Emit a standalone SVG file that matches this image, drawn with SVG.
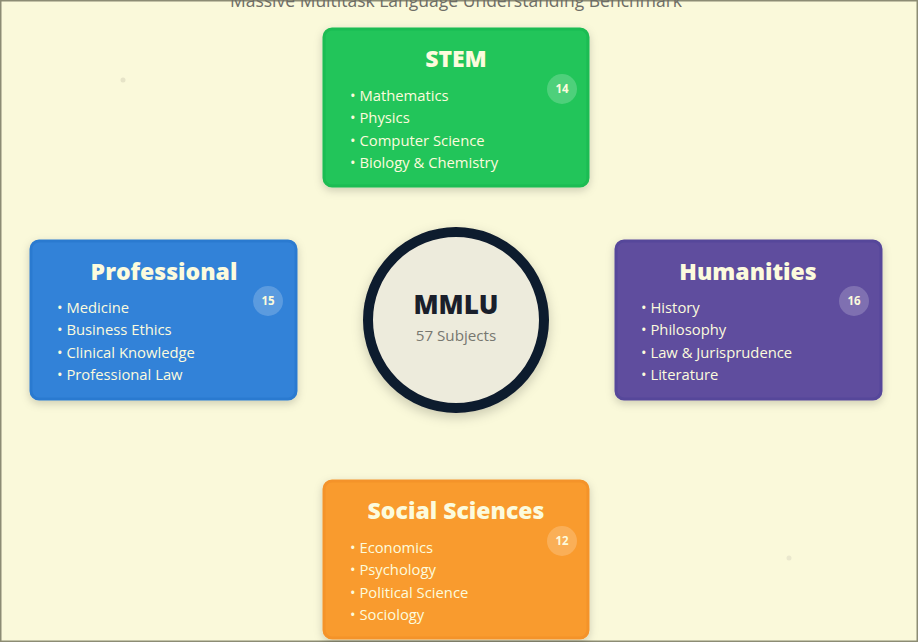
<svg xmlns="http://www.w3.org/2000/svg" width="918" height="642" viewBox="0 0 918 642">
<defs>
<filter id="sh" x="-20%" y="-20%" width="140%" height="150%">
<feDropShadow dx="0" dy="3" stdDeviation="4" flood-color="#000" flood-opacity="0.18"/>
</filter>
<filter id="csh" x="-30%" y="-30%" width="160%" height="160%">
<feDropShadow dx="0" dy="4" stdDeviation="6" flood-color="#000" flood-opacity="0.2"/>
</filter>
</defs>
<style>
.bg{fill:#FAF9DA}
.card{stroke-width:3;filter:url(#sh)}
.ttl{font-family:"Open Sans","Noto Sans",sans-serif;font-weight:800;font-size:23px;fill:#FCFBDD;text-anchor:middle}
.it{font-family:"Open Sans","Noto Sans",sans-serif;font-size:14.8px;fill:#FCFBDD}
.bd{fill:#FFFFFF;fill-opacity:0.2}
.bt{font-family:"Open Sans","Noto Sans",sans-serif;font-weight:700;font-size:11.5px;fill:#FCFBDD;text-anchor:middle}
</style>
<rect class="bg" x="0" y="0" width="918" height="642"/>
<rect x="0.75" y="0.75" width="916.5" height="640.5" fill="none" stroke="#8C8C74" stroke-width="1.5"/>
<text x="456" y="7" font-family="'Open Sans','Noto Sans',sans-serif" font-size="17.5" fill="#6E6E66" text-anchor="middle">Massive Multitask Language Understanding Benchmark</text>
<circle cx="123" cy="80" r="2.5" fill="#E6E4C8"/>
<circle cx="789" cy="558" r="2.5" fill="#EAE8CE"/>
<g id="connectors"></g>
<g id="center">
<circle cx="456" cy="320" r="88" fill="#EDEBDC" stroke="#0F1B2D" stroke-width="10" filter="url(#csh)"/>
<text x="456" y="314" font-family="'Open Sans','Noto Sans',sans-serif" font-weight="800" font-size="26" fill="#1A1F2B" text-anchor="middle">MMLU</text>
<text x="456" y="341" font-family="'Open Sans','Noto Sans',sans-serif" font-size="15.2" fill="#777770" text-anchor="middle">57 Subjects</text>
</g>
<g id="stem">
<rect class="card" x="324" y="29" width="264" height="157" rx="8" fill="#22C55A" stroke="#1DBC52"/>
<text class="ttl" x="456" y="67">STEM</text>
<circle class="bd" cx="562" cy="89" r="15"/>
<text class="bt" x="562" y="93">14</text>
<text class="it" x="350" y="101">• Mathematics</text>
<text class="it" x="350" y="123">• Physics</text>
<text class="it" x="350" y="146">• Computer Science</text>
<text class="it" x="350" y="168">• Biology &amp; Chemistry</text>
</g>
<g id="professional">
<rect class="card" x="31" y="241" width="265" height="158" rx="8" fill="#3282D8" stroke="#2C7AD0"/>
<text class="ttl" x="164" y="280">Professional</text>
<circle class="bd" cx="268" cy="301" r="15"/>
<text class="bt" x="268" y="305">15</text>
<text class="it" x="57" y="313">• Medicine</text>
<text class="it" x="57" y="335">• Business Ethics</text>
<text class="it" x="57" y="358">• Clinical Knowledge</text>
<text class="it" x="57" y="380">• Professional Law</text>
</g>
<g id="humanities">
<rect class="card" x="616" y="241" width="265" height="158" rx="8" fill="#5E4E9E" stroke="#56479A"/>
<text class="ttl" x="748" y="280">Humanities</text>
<circle class="bd" cx="854" cy="301" r="15"/>
<text class="bt" x="854" y="305">16</text>
<text class="it" x="641" y="313">• History</text>
<text class="it" x="641" y="335">• Philosophy</text>
<text class="it" x="641" y="358">• Law &amp; Jurisprudence</text>
<text class="it" x="641" y="380">• Literature</text>
</g>
<g id="social">
<rect class="card" x="324" y="481" width="264" height="157" rx="8" fill="#F99B2E" stroke="#F4932A"/>
<text class="ttl" x="456" y="519">Social Sciences</text>
<circle class="bd" cx="562" cy="541" r="15"/>
<text class="bt" x="562" y="545">12</text>
<text class="it" x="350" y="553">• Economics</text>
<text class="it" x="350" y="575">• Psychology</text>
<text class="it" x="350" y="598">• Political Science</text>
<text class="it" x="350" y="620">• Sociology</text>
</g>
</svg>
